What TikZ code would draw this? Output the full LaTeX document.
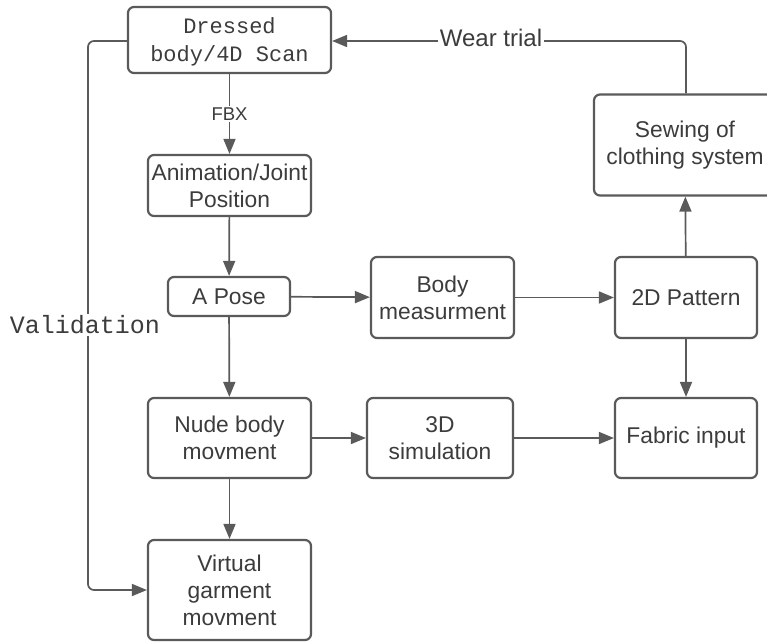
\documentclass[tikz,border=0pt]{standalone}
\usepackage{fontspec}
\setmainfont{Liberation Sans}
\newfontfamily\monofont{Liberation Mono}
\usetikzlibrary{arrows.meta}
\definecolor{ln}{HTML}{5A5A5A}
\definecolor{tx}{HTML}{3C3C3C}
\tikzset{
  box/.style={draw=ln, line width=2.2pt, rounded corners=6pt, align=center,
    font=\fontsize{22.8}{27}\selectfont, text=tx, inner sep=0pt},
  conn/.style={draw=ln, line width=1.7pt, -{Triangle[length=15pt,width=12pt]}},
  lbl/.style={fill=white, text=tx, inner sep=1.5pt}
}
\begin{document}
\begin{tikzpicture}[x=1pt,y=-1pt]
\useasboundingbox (0,0) rectangle (767,643);
\node[box, minimum width=203pt, minimum height=66pt, font=\monofont\fontsize{22}{28}\selectfont] (scan) at (229.5,40) {\strut Dressed\\body/4D Scan};
\node[box, minimum width=163pt, minimum height=61pt] (anim) at (229.5,185.5) {Animation/Joint\\Position};
\node[box, minimum width=122pt, minimum height=39pt] (apose) at (229,296.5) {A Pose};
\node[box, minimum width=163pt, minimum height=80pt] (nude) at (229.5,438) {Nude body\\movment};
\node[box, minimum width=163pt, minimum height=100pt] (virt) at (229.5,590) {Virtual\\garment\\movment};
\node[box, minimum width=143pt, minimum height=81pt] (meas) at (442.5,297.5) {Body\\measurment};
\node[box, minimum width=146pt, minimum height=80pt] (sim) at (440,438) {3D\\simulation};
\node[box, minimum width=142pt, minimum height=81pt] (pat) at (686,297.5) {2D Pattern};
\node[box, minimum width=142pt, minimum height=80pt] (fab) at (686,438) {Fabric input};
\node[box, minimum width=182pt, minimum height=101pt] (sew) at (685,145) {Sewing of\\clothing system};

\coordinate (wt) at (686,41);
\coordinate (vl) at (88,41);
\coordinate (vb) at (88,590);

\draw[conn] (scan) -- node[lbl, font=\fontsize{18.5}{22}\selectfont] {FBX} (anim);
\draw[conn] (anim) -- (apose);
\draw[conn] (apose) -- (nude);
\draw[conn] (nude) -- (virt);
\draw[conn] (apose) -- (meas);
\draw[conn] (meas) -- (pat);
\draw[conn] (pat) -- (sew);
\draw[conn] (pat) -- (fab);
\draw[conn] (nude) -- (sim);
\draw[conn] (sim) -- (fab);
\draw[conn, rounded corners=6pt] (sew.north -| wt) -- (wt) -- (scan.east |- wt);
\node[lbl, font=\fontsize{24}{28}\selectfont] (wlabel) at (491,38) {Wear trial};
\draw[conn, rounded corners=6pt] (scan.west |- vl) -- (vl) -- (vb) -- (virt.west |- vb);
\node[lbl, font=\monofont\fontsize{25}{29}\selectfont] (vlabel) at (85,325) {Validation};
\end{tikzpicture}
\end{document}
